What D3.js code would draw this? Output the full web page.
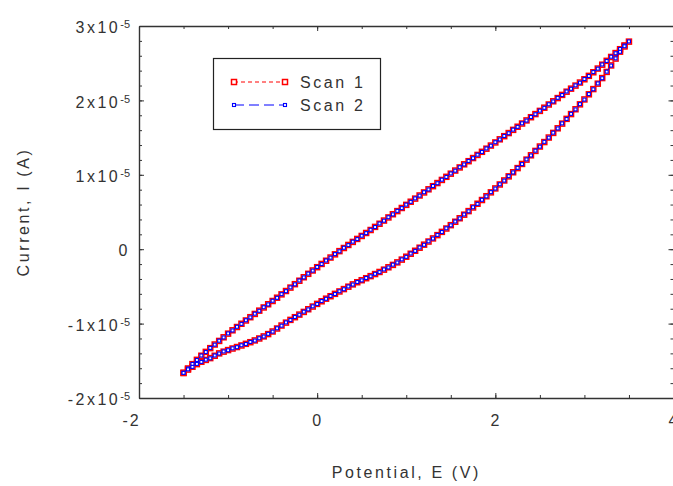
<!DOCTYPE html>
<html lang="en">
<head>
  <meta charset="UTF-8" />
  <title>Cyclic voltammogram - Scan 1 / Scan 2</title>
  <script src="https://cdnjs.cloudflare.com/ajax/libs/d3/7.8.4/d3.min.js"></script>
  <style>
    body {
      margin: 0;
      background: #fff;
      overflow: hidden;
    }
    svg {
      display: block;
    }
    text {
      font-family: "Liberation Sans", Arial, sans-serif;
      fill: #333;
    }
  </style>
</head>
<body>
  <svg width="673" height="486"></svg>
  <script>
    // potential (V), 0.05 V steps
    const potential = [-1.50, -1.45, -1.40, -1.35, -1.30, -1.25, -1.20, -1.15, -1.10, -1.05,
      -1.00, -0.95, -0.90, -0.85, -0.80, -0.75, -0.70, -0.65, -0.60, -0.55,
      -0.50, -0.45, -0.40, -0.35, -0.30, -0.25, -0.20, -0.15, -0.10, -0.05,
      0.00, 0.05, 0.10, 0.15, 0.20, 0.25, 0.30, 0.35, 0.40, 0.45,
      0.50, 0.55, 0.60, 0.65, 0.70, 0.75, 0.80, 0.85, 0.90, 0.95,
      1.00, 1.05, 1.10, 1.15, 1.20, 1.25, 1.30, 1.35, 1.40, 1.45,
      1.50, 1.55, 1.60, 1.65, 1.70, 1.75, 1.80, 1.85, 1.90, 1.95,
      2.00, 2.05, 2.10, 2.15, 2.20, 2.25, 2.30, 2.35, 2.40, 2.45,
      2.50, 2.55, 2.60, 2.65, 2.70, 2.75, 2.80, 2.85, 2.90, 2.95,
      3.00, 3.05, 3.10, 3.15, 3.20, 3.25, 3.30, 3.35, 3.40, 3.45, 3.50];

    // current in units of 1e-5 A: forward sweep (upper branch), reverse sweep (lower branch)
    const scan1Forward = [-1.665, -1.603, -1.545, -1.487, -1.432, -1.380, -1.330, -1.281, -1.233, -1.184,
      -1.135, -1.090, -1.046, -1.002, -0.958, -0.914, -0.870, -0.826, -0.783, -0.740,
      -0.696, -0.652, -0.607, -0.562, -0.516, -0.470, -0.424, -0.377, -0.331, -0.286,
      -0.242, -0.198, -0.155, -0.112, -0.069, -0.026, 0.016, 0.057, 0.098, 0.138,
      0.178, 0.218, 0.258, 0.300, 0.342, 0.385, 0.427, 0.470, 0.512, 0.554,
      0.596, 0.638, 0.680, 0.722, 0.763, 0.805, 0.847, 0.889, 0.931, 0.973,
      1.015, 1.057, 1.099, 1.141, 1.183, 1.225, 1.267, 1.309, 1.351, 1.393,
      1.435, 1.477, 1.519, 1.561, 1.604, 1.646, 1.689, 1.731, 1.774, 1.816,
      1.859, 1.902, 1.945, 1.988, 2.031, 2.074, 2.117, 2.158, 2.199, 2.240,
      2.284, 2.330, 2.378, 2.428, 2.480, 2.532, 2.584, 2.636, 2.688, 2.739, 2.790];
    const scan1Reverse = [-1.660, -1.618, -1.580, -1.545, -1.513, -1.488, -1.464, -1.432, -1.400, -1.377,
      -1.356, -1.335, -1.315, -1.294, -1.272, -1.250, -1.226, -1.200, -1.172, -1.141,
      -1.106, -1.066, -1.026, -0.987, -0.950, -0.914, -0.879, -0.843, -0.807, -0.771,
      -0.735, -0.700, -0.665, -0.632, -0.600, -0.568, -0.536, -0.504, -0.473, -0.444,
      -0.417, -0.390, -0.362, -0.334, -0.306, -0.275, -0.243, -0.211, -0.177, -0.140,
      -0.101, -0.061, -0.021, 0.020, 0.061, 0.103, 0.145, 0.189, 0.233, 0.278,
      0.323, 0.369, 0.416, 0.464, 0.512, 0.561, 0.611, 0.661, 0.712, 0.764,
      0.817, 0.870, 0.924, 0.979, 1.034, 1.090, 1.146, 1.204, 1.262, 1.321,
      1.380, 1.440, 1.501, 1.563, 1.625, 1.688, 1.752, 1.816, 1.881, 1.947,
      2.013, 2.082, 2.152, 2.225, 2.300, 2.383, 2.470, 2.562, 2.655, 2.725, 2.790];
    const scan2Forward = [-1.662, -1.605, -1.542, -1.489, -1.429, -1.382, -1.327, -1.283, -1.230, -1.186,
      -1.132, -1.092, -1.043, -1.004, -0.955, -0.916, -0.867, -0.828, -0.780, -0.742,
      -0.693, -0.654, -0.604, -0.564, -0.513, -0.472, -0.421, -0.379, -0.328, -0.288,
      -0.239, -0.200, -0.152, -0.114, -0.066, -0.028, 0.019, 0.055, 0.101, 0.136,
      0.181, 0.216, 0.261, 0.298, 0.345, 0.383, 0.430, 0.468, 0.515, 0.552,
      0.599, 0.636, 0.683, 0.720, 0.766, 0.803, 0.850, 0.887, 0.934, 0.971,
      1.018, 1.055, 1.102, 1.139, 1.186, 1.223, 1.270, 1.307, 1.354, 1.391,
      1.438, 1.475, 1.522, 1.559, 1.607, 1.644, 1.692, 1.729, 1.777, 1.814,
      1.862, 1.900, 1.948, 1.986, 2.034, 2.072, 2.120, 2.156, 2.202, 2.238,
      2.287, 2.328, 2.381, 2.426, 2.483, 2.530, 2.587, 2.634, 2.691, 2.737, 2.793];
    const scan2Reverse = [-1.662, -1.615, -1.582, -1.542, -1.515, -1.485, -1.466, -1.429, -1.402, -1.374,
      -1.358, -1.332, -1.317, -1.291, -1.274, -1.247, -1.228, -1.197, -1.174, -1.138,
      -1.108, -1.063, -1.028, -0.984, -0.952, -0.911, -0.881, -0.840, -0.809, -0.768,
      -0.737, -0.697, -0.667, -0.629, -0.602, -0.565, -0.538, -0.501, -0.475, -0.441,
      -0.419, -0.387, -0.364, -0.331, -0.308, -0.272, -0.245, -0.208, -0.179, -0.137,
      -0.103, -0.058, -0.023, 0.023, 0.059, 0.106, 0.143, 0.192, 0.231, 0.281,
      0.321, 0.372, 0.414, 0.467, 0.510, 0.564, 0.609, 0.664, 0.710, 0.767,
      0.815, 0.873, 0.922, 0.982, 1.032, 1.093, 1.144, 1.207, 1.260, 1.324,
      1.378, 1.443, 1.499, 1.566, 1.623, 1.691, 1.750, 1.819, 1.879, 1.950,
      2.011, 2.085, 2.150, 2.228, 2.298, 2.386, 2.468, 2.565, 2.653, 2.728, 2.793];

    const xTicks = [-2, 0, 2, 4];
    const yTicks = [-2, -1, 0, 1, 2, 3];
    const seriesNames = ["Scan 1", "Scan 2"];

    const svg = d3.select("svg");
    const plotLeft = 139, plotRight = 673.5, plotTop = 26, plotBottom = 398;

    const x = d3.scaleLinear().domain([-2, 4]).range([plotLeft, plotRight]);
    const y = d3.scaleLinear().domain([-2, 3]).range([plotBottom, plotTop]);

    const font = "'Liberation Sans', Arial, sans-serif";

    // minor ticks on all four sides
    function minor(g, axis) {
      g.attr("color", "#333").call(axis.tickSizeOuter(0).tickFormat(""));
      g.select(".domain").remove();
    }
    svg.append("g").attr("transform", `translate(0,${plotBottom})`)
      .call(g => minor(g, d3.axisBottom(x).ticks(12).tickSize(-3)));
    svg.append("g").attr("transform", `translate(0,${plotTop})`)
      .call(g => minor(g, d3.axisTop(x).ticks(12).tickSize(-3)));
    svg.append("g").attr("transform", `translate(${plotLeft},0)`)
      .call(g => minor(g, d3.axisLeft(y).ticks(25).tickSize(-3)));
    svg.append("g").attr("transform", `translate(${plotRight},0)`)
      .call(g => minor(g, d3.axisRight(y).ticks(25).tickSize(-3)));

    // major axes
    const xAxis = svg.append("g")
      .attr("transform", `translate(0,${plotBottom})`)
      .attr("color", "#333")
      .call(d3.axisBottom(x).tickValues(xTicks).tickSize(-5).tickSizeOuter(0).tickPadding(17));
    svg.append("g")
      .attr("transform", `translate(0,${plotTop})`)
      .attr("color", "#333")
      .call(d3.axisTop(x).tickValues(xTicks).tickSize(-5).tickSizeOuter(0).tickFormat(""));
    const yAxis = svg.append("g")
      .attr("transform", `translate(${plotLeft},0)`)
      .attr("color", "#333")
      .call(d3.axisLeft(y).tickValues(yTicks).tickSize(-5).tickSizeOuter(0).tickPadding(9));
    svg.append("g")
      .attr("transform", `translate(${plotRight},0)`)
      .attr("color", "#333")
      .call(d3.axisRight(y).tickValues(yTicks).tickSize(-5).tickSizeOuter(0).tickFormat(""));

    svg.selectAll(".domain").attr("stroke-width", 1.4);

    xAxis.selectAll("text")
      .attr("font-size", 16)
      .attr("font-family", font)
      .style("letter-spacing", "2px")
      .attr("dx", d => d < 0 ? -8 : 0)
      .text(d => d < 0 ? "-" + Math.abs(d) : d);

    yAxis.selectAll("text")
      .attr("font-size", 16)
      .attr("font-family", font)
      .attr("dy", "0.42em")
      .style("letter-spacing", "2.5px")
      .each(function(d) {
        const t = d3.select(this);
        t.text("");
        if (d === 0) {
          t.text("0");
          return;
        }
        t.append("tspan").text((d < 0 ? "-" : "") + Math.abs(d) + "x10");
        t.append("tspan")
          .attr("dy", "-0.45em")
          .attr("font-size", 11)
          .style("letter-spacing", "0px")
          .text("-5");
      });

    // axis titles
    svg.append("text")
      .attr("x", (plotLeft + plotRight) / 2)
      .attr("y", 478)
      .attr("text-anchor", "middle")
      .attr("font-size", 16)
      .style("letter-spacing", "2.6px")
      .text("Potential, E (V)");

    svg.append("text")
      .attr("transform", `translate(29,${(plotTop + plotBottom) / 2}) rotate(-90)`)
      .attr("text-anchor", "middle")
      .attr("font-size", 16)
      .style("letter-spacing", "2.6px")
      .text("Current, I (A)");

    // data: forward sweep then reverse sweep back down
    function loop(fwd, rev) {
      const pts = potential.map((p, i) => [p, fwd[i]]);
      for (let i = potential.length - 2; i >= 0; i--) pts.push([potential[i], rev[i]]);
      return pts;
    }
    const series = [
      { name: seriesNames[0], pts: loop(scan1Forward, scan1Reverse), color: "#ff0000", dash: "4,3", size: 5, sw: 1.5 },
      { name: seriesNames[1], pts: loop(scan2Forward, scan2Reverse), color: "#0000ff", dash: "10,5", size: 3, sw: 1.1 }
    ];

    const line = d3.line().x(d => x(d[0])).y(d => y(d[1]));

    series.forEach(s => {
      svg.append("path")
        .datum(s.pts)
        .attr("fill", "none")
        .attr("stroke", s.color)
        .attr("stroke-width", 1)
        .attr("stroke-dasharray", s.dash)
        .attr("d", line);

      svg.append("g")
        .selectAll("rect")
        .data(s.pts)
        .enter()
        .append("rect")
        .attr("x", d => x(d[0]) - s.size / 2)
        .attr("y", d => y(d[1]) - s.size / 2)
        .attr("width", s.size)
        .attr("height", s.size)
        .attr("fill", "#fff")
        .attr("stroke", s.color)
        .attr("stroke-width", s.sw);
    });

    // legend
    const legend = svg.append("g");
    legend.append("rect")
      .attr("x", 213.5)
      .attr("y", 58.5)
      .attr("width", 167)
      .attr("height", 71)
      .attr("fill", "#fff")
      .attr("stroke", "#222")
      .attr("stroke-width", 1.2);

    series.forEach((s, i) => {
      const ly = 82 + i * 23;
      legend.append("line")
        .attr("x1", 234).attr("x2", 285)
        .attr("y1", ly).attr("y2", ly)
        .attr("stroke", s.color)
        .attr("stroke-width", 1)
        .attr("stroke-dasharray", s.dash);
      [234, 285].forEach(lx => {
        legend.append("rect")
          .attr("x", lx - s.size / 2)
          .attr("y", ly - s.size / 2)
          .attr("width", s.size)
          .attr("height", s.size)
          .attr("fill", "#fff")
          .attr("stroke", s.color)
          .attr("stroke-width", s.sw);
      });
      legend.append("text")
        .attr("x", 300)
        .attr("y", ly + 6)
        .attr("font-size", 16)
        .style("letter-spacing", "2.6px")
        .text(s.name);
    });
  </script>
</body>
</html>
